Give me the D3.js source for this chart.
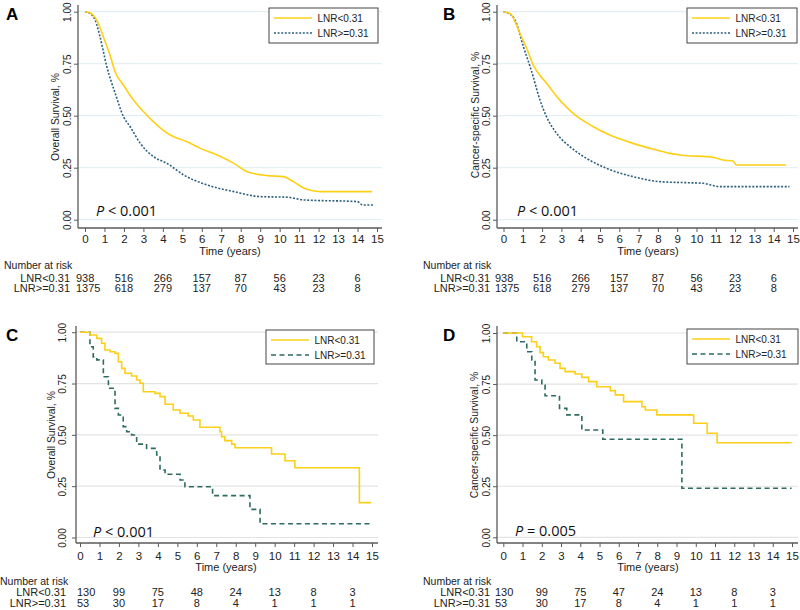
<!DOCTYPE html>
<html><head><meta charset="utf-8">
<script src="https://cdn.jsdelivr.net/npm/d3@7"></script>
<style>body{margin:0;background:#fff;} svg{display:block;font-family:"Liberation Sans",Arial,sans-serif;}</style>
</head><body><svg id="c" width="800" height="610"></svg>
<script>
// ---------- DATA ----------
const timeTicks = [0,1,2,3,4,5,6,7,8,9,10,11,12,13,14,15];
const survTicks = [0, 0.25, 0.5, 0.75, 1];
const survTickLabels = ["0.00","0.25","0.50","0.75","1.00"];
const groupNames = ["LNR<0.31","LNR>=0.31"];
const riskTimes = [0,2,4,6,8,10,12,14];

const riskA_low  = [938,516,266,157,87,56,23,6];
const riskA_high = [1375,618,279,137,70,43,23,8];
const riskB_low  = [938,516,266,157,87,56,23,6];
const riskB_high = [1375,618,279,137,70,43,23,8];
const riskC_low  = [130,99,75,48,24,13,8,3];
const riskC_high = [53,30,17,8,4,1,1,1];
const riskD_low  = [130,99,75,47,24,13,8,3];
const riskD_high = [53,30,17,8,4,1,1,1];

// survival curves: [time(years), survival]
const survA_low = [[0,1],[0.26,0.995],[0.6,0.96],[0.94,0.88],[1.29,0.79],[1.55,0.71],[1.97,0.648],[2.49,0.575],[3.0,0.52],[3.7,0.455],[4.38,0.407],[5.24,0.375],[5.93,0.343],[6.79,0.311],[7.65,0.271],[8.33,0.231],[9.36,0.212],[10.2,0.207],[10.7,0.183],[11.4,0.146],[12.1,0.135],[14.74,0.135]];
const survA_high = [[0,1],[0.2,0.995],[0.52,0.96],[0.77,0.88],[1.12,0.736],[1.55,0.608],[1.98,0.495],[2.32,0.447],[2.84,0.367],[3.52,0.303],[4.21,0.271],[5.07,0.215],[6.27,0.167],[7.65,0.135],[9.0,0.111],[10.4,0.108],[11.25,0.095],[14.0,0.087],[14.26,0.071],[14.86,0.071]];
const survB_low = [[0,1],[0.34,0.992],[0.85,0.896],[1.2,0.824],[1.54,0.744],[2.23,0.656],[2.92,0.575],[3.61,0.511],[4.65,0.447],[5.51,0.407],[6.71,0.367],[7.92,0.335],[8.61,0.319],[9.13,0.311],[10.85,0.3],[11.37,0.287],[11.9,0.282],[12.06,0.263],[14.65,0.263]];
const survB_high = [[0,1],[0.2,0.995],[0.6,0.96],[1.03,0.832],[1.46,0.712],[1.89,0.575],[2.23,0.495],[2.75,0.415],[3.44,0.351],[4.3,0.295],[5.34,0.247],[6.71,0.207],[8.1,0.183],[9.48,0.178],[10.34,0.175],[11.2,0.159],[14.82,0.159]];
const survC_low = [[0,1],[0.51,0.986],[0.86,0.97],[1.11,0.946],[1.28,0.913],[1.54,0.905],[1.8,0.897],[1.97,0.856],[2.14,0.824],[2.31,0.8],[2.65,0.787],[2.91,0.767],[3.08,0.751],[3.25,0.71],[3.85,0.702],[4.11,0.686],[4.37,0.649],[4.79,0.621],[5.14,0.605],[5.56,0.592],[5.82,0.572],[6.16,0.537],[7.19,0.515],[7.27,0.491],[7.44,0.472],[7.79,0.455],[7.96,0.437],[9.84,0.407],[10.53,0.374],[11.04,0.34],[14.35,0.17],[14.95,0.17]];
const survC_high = [[0,1],[0.51,0.929],[0.68,0.88],[0.86,0.865],[1.2,0.783],[1.46,0.727],[1.8,0.629],[1.97,0.597],[2.22,0.54],[2.4,0.515],[2.65,0.499],[2.91,0.455],[3.42,0.434],[3.94,0.402],[4.11,0.329],[4.37,0.308],[5.14,0.28],[5.39,0.247],[6.81,0.204],[8.73,0.137],[9.25,0.067],[14.95,0.067]];
const survD_low = [[0,1],[1.0,0.982],[1.47,0.957],[1.73,0.933],[1.91,0.904],[2.08,0.884],[2.34,0.868],[2.69,0.852],[2.95,0.827],[3.21,0.811],[3.73,0.799],[4.08,0.783],[4.43,0.762],[4.86,0.737],[5.56,0.718],[5.82,0.697],[6.25,0.664],[7.2,0.639],[7.38,0.623],[7.98,0.599],[9.89,0.558],[10.59,0.509],[11.11,0.463],[14.98,0.463]];
const survD_high = [[0,1],[0.7,0.957],[1.22,0.908],[1.48,0.868],[1.65,0.77],[2.0,0.745],[2.17,0.693],[2.92,0.631],[3.3,0.599],[4.08,0.525],[5.17,0.48],[9.28,0.24],[14.98,0.24]];

const panelLetters = ["A","B","C","D"];
const yTitles = ["Overall Survival, %","Cancer-specific Survival, %","Overall Survival, %","Cancer-specific Survival, %"];
const pSymbols = ["<","<","<","="];
const pValues = ["0.001","0.001","0.001","0.005"];
const xTitle = "Time (years)";
const riskTitle = "Number at risk";

// ---------- LAYOUT ----------
const layouts = [
 {x0:85,x1:377,yb:219.7,yt:11.7,ax:78,axTop:5,ay:228,right:382,ytOff:-7,titleX:59,titleY:117,letterX:6,letterY:20,
  leg:[269,8,109,35],pX:96,pY:216,tickY:243,timeY:255,timeX:230,narX:4,narY:269,r1:281.5,r2:292,labR:70,firstOff:-9,
  highDash:"2,1.6",highColor:"#2d5f7e",grid:"#e6eff2",curve:"smooth"},
 {x0:503.5,x1:793,yb:219.7,yt:11.7,ax:497,axTop:5,ay:228,right:798,ytOff:-7.5,titleX:479,titleY:115,letterX:443,letterY:20,
  leg:[687,8,110,35],pX:517,pY:216,tickY:243,timeY:255,timeX:648,narX:423,narY:269,r1:281.5,r2:292,labR:490,firstOff:-8.5,
  highDash:"2,1.6",highColor:"#2d5f7e",grid:"#e6eff2",curve:"smooth"},
 {x0:80,x1:372,yb:537.5,yt:332.2,ax:76,axTop:326,ay:543,right:378,ytOff:-10,titleX:54.5,titleY:435,letterX:6,letterY:341,
  leg:[266,330,108,34],pX:93,pY:536.5,tickY:560,timeY:571,timeX:226,narX:0,narY:585,r1:596,r2:607,labR:66,firstOff:-3,
  highDash:"5,3.5",highColor:"#2e6b60",grid:"#e3e3e3",curve:"step"},
 {x0:503.3,x1:792,yb:537.3,yt:333,ax:497,axTop:326,ay:543,right:798,ytOff:-7.5,titleX:478,titleY:435,letterX:443,letterY:341,
  leg:[687,329,111,35],pX:515,pY:536,tickY:560,timeY:571,timeX:648,narX:423,narY:585,r1:596,r2:607,labR:490,firstOff:-8.3,
  highDash:"5,3.5",highColor:"#2e6b60",grid:"#e3e3e3",curve:"step"}
];

const survLow = [survA_low, survB_low, survC_low, survD_low];
const survHigh = [survA_high, survB_high, survC_high, survD_high];
const riskLow = [riskA_low, riskB_low, riskC_low, riskD_low];
const riskHigh = [riskA_high, riskB_high, riskC_high, riskD_high];

const yellow = "#fdd017";
const axisColor = "#5a5a5a";
const svg = d3.select("#c");

layouts.forEach((L, i) => {
  const g = svg.append("g");
  const x = d3.scaleLinear().domain([0,15]).range([L.x0, L.x1]);
  const y = d3.scaleLinear().domain([0,1]).range([L.yb, L.yt]);

  // gridlines
  g.append("g").selectAll("line").data(survTicks).join("line")
    .attr("x1", L.ax).attr("x2", L.right)
    .attr("y1", d => y(d)).attr("y2", d => y(d))
    .attr("stroke", L.grid).attr("stroke-width", 1.2);

  // y axis
  const yAx = g.append("g").attr("transform", `translate(${L.ax},0)`)
    .call(d3.axisLeft(y).tickValues(survTicks).tickFormat((d,k) => survTickLabels[k]).tickSize(4).tickSizeOuter(0));
  yAx.select(".domain").remove();
  yAx.selectAll(".tick line").attr("stroke", axisColor);
  yAx.selectAll(".tick text")
    .attr("transform", "rotate(-90)")
    .attr("x", 0).attr("y", L.ytOff).attr("dy", null)
    .attr("text-anchor", "middle")
    .attr("font-size", 10).attr("font-family", '"Liberation Sans",Arial,sans-serif')
    .attr("fill", "#222");
  g.append("line").attr("x1", L.ax).attr("x2", L.ax).attr("y1", L.axTop).attr("y2", L.ay)
    .attr("stroke", axisColor).attr("stroke-width", 1.3);

  // x axis
  const xAx = g.append("g").attr("transform", `translate(0,${L.ay})`)
    .call(d3.axisBottom(x).tickValues(timeTicks).tickFormat(d3.format("d")).tickSize(4).tickSizeOuter(0));
  xAx.select(".domain").remove();
  xAx.selectAll(".tick line").attr("stroke", axisColor);
  xAx.selectAll(".tick text")
    .attr("y", L.tickY - L.ay).attr("dy", null)
    .attr("font-size", 11.5).attr("font-family", '"Liberation Sans",Arial,sans-serif')
    .attr("fill", "#222");
  g.append("line").attr("x1", L.ax).attr("x2", L.right).attr("y1", L.ay).attr("y2", L.ay)
    .attr("stroke", axisColor).attr("stroke-width", 1.3);

  // titles
  g.append("text").attr("transform", `translate(${L.titleX},${L.titleY}) rotate(-90)`)
    .attr("text-anchor", "middle").attr("font-size", 10.4).attr("fill", "#222").text(yTitles[i]);
  g.append("text").attr("x", L.timeX).attr("y", L.timeY).attr("text-anchor", "middle")
    .attr("font-size", 11).attr("fill", "#222").text(xTitle);
  g.append("text").attr("x", L.letterX).attr("y", L.letterY)
    .attr("font-size", 17).attr("font-weight", "bold").attr("fill", "#000").text(panelLetters[i]);

  // curves
  const line = d3.line().x(d => x(d[0])).y(d => y(d[1]))
    .curve(L.curve === "step" ? d3.curveStepAfter : d3.curveMonotoneX);
  g.append("path").datum(survHigh[i]).attr("d", line).attr("fill", "none")
    .attr("stroke", L.highColor).attr("stroke-width", 1.6).attr("stroke-dasharray", L.highDash);
  g.append("path").datum(survLow[i]).attr("d", line).attr("fill", "none")
    .attr("stroke", yellow).attr("stroke-width", 1.6);

  // P value
  const pt = g.append("text").attr("x", L.pX).attr("y", L.pY)
    .attr("font-family", '"Open Sans",sans-serif').attr("font-size", 14.5).attr("fill", "#111");
  pt.append("tspan").attr("font-style", "italic").text("P");
  pt.append("tspan").text(" " + pSymbols[i] + " " + pValues[i]);

  // legend
  const [lx, ly, lw, lh] = L.leg;
  const lg = g.append("g");
  lg.append("rect").attr("x", lx).attr("y", ly).attr("width", lw).attr("height", lh)
    .attr("fill", "#fff").attr("stroke", "#444").attr("stroke-width", 1);
  const legStyles = [{c: yellow, d: null}, {c: L.highColor, d: L.highDash}];
  groupNames.forEach((name, k) => {
    const yy = ly + 10 + k * 15;
    lg.append("line").attr("x1", lx + 5).attr("x2", lx + 43).attr("y1", yy).attr("y2", yy)
      .attr("stroke", legStyles[k].c).attr("stroke-width", 1.6)
      .attr("stroke-dasharray", legStyles[k].d);
    lg.append("text").attr("x", lx + 48.5).attr("y", yy + 3.7)
      .attr("font-size", 10).attr("fill", "#222").text(name);
  });

  // risk table
  const rt = g.append("g").attr("font-size", 11).attr("fill", "#222");
  rt.append("text").attr("x", L.narX).attr("y", L.narY).attr("font-size", 10.5).text(riskTitle);
  [[riskLow[i], L.r1], [riskHigh[i], L.r2]].forEach(([vals, yy], k) => {
    rt.append("text").attr("x", L.labR).attr("y", yy).attr("text-anchor", "end").text(groupNames[k]);
    rt.selectAll(null).data(vals).join("text")
      .attr("x", (d, j) => j === 0 ? x(riskTimes[j]) + L.firstOff : x(riskTimes[j]))
      .attr("y", yy)
      .attr("text-anchor", (d, j) => j === 0 ? "start" : "middle")
      .text(d => d);
  });
});
</script>
</body></html>
